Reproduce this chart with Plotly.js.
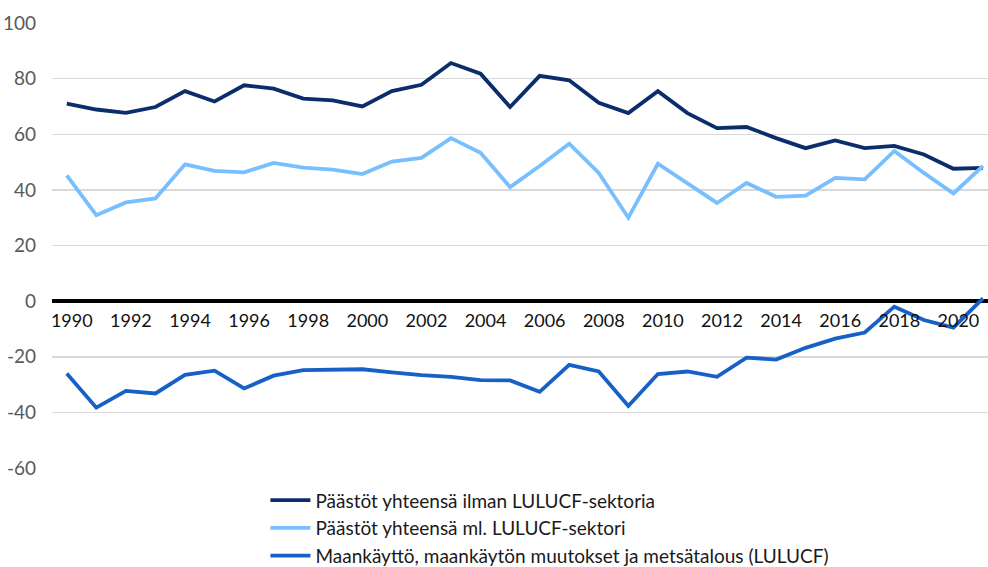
<!DOCTYPE html>
<html>
<head>
<meta charset="utf-8">
<script src="https://cdn.plot.ly/plotly-3.0.1.min.js"></script>
<style>html,body{margin:0;padding:0;background:#fff;}#chart{width:988px;height:567px;}</style>
</head>
<body>
<div id="chart"></div>
<script>
const years = [1990,1991,1992,1993,1994,1995,1996,1997,1998,1999,2000,2001,2002,2003,2004,2005,2006,2007,2008,2009,2010,2011,2012,2013,2014,2015,2016,2017,2018,2019,2020,2021];
const emissionsExclLULUCF = [71.0,68.9,67.7,69.8,75.5,71.8,77.6,76.4,72.8,72.2,70.0,75.5,77.8,85.6,81.8,69.8,81.0,79.4,71.3,67.6,75.5,67.6,62.2,62.6,58.6,55.0,57.8,55.0,55.8,52.7,47.6,47.9];
const emissionsInclLULUCF = [45.2,30.9,35.5,36.9,49.2,46.8,46.3,49.7,48.0,47.3,45.7,50.2,51.5,58.6,53.3,41.0,48.6,56.6,46.1,30.0,49.4,42.5,35.3,42.5,37.5,37.9,44.3,43.8,54.0,46.1,38.7,48.6];
const lulucf = [-26.0,-38.3,-32.3,-33.2,-26.5,-25.0,-31.4,-26.8,-24.8,-24.8,-24.5,-25.6,-26.6,-27.2,-28.4,-28.5,-32.6,-22.9,-25.3,-37.7,-26.2,-25.3,-27.2,-20.3,-21.0,-16.8,-13.5,-11.3,-2.0,-6.8,-9.5,1.0];
const seriesNames = ["Päästöt yhteensä ilman LULUCF-sektoria","Päästöt yhteensä ml. LULUCF-sektori","Maankäyttö, maankäytön muutokset ja metsätalous (LULUCF)"];
const xTickVals = [1990,1992,1994,1996,1998,2000,2002,2004,2006,2008,2010,2012,2014,2016,2018,2020];
const yTickVals = [-60,-40,-20,0,20,40,60,80,100];
const yTickText = ["-60","-40","-20","0","20","40","60","80","100"];

const FONT = "Lato, 'Liberation Sans', sans-serif";
const colors = ["#0b2d6c","#78bfff","#1660c6"];

const traces = [emissionsExclLULUCF, emissionsInclLULUCF, lulucf].map((v,i)=>({
  x: years, y: v, type: "scatter", mode: "lines", name: seriesNames[i],
  line: {color: colors[i], width: 3.8}
}));

const layout = {
  width: 988, height: 567,
  margin: {l: 52, r: 0, t: 23, b: 99, pad: 0, autoexpand: false},
  paper_bgcolor: "#fff", plot_bgcolor: "#fff",
  showlegend: true,
  legend: {x: 0.228, xanchor: "left", y: -0.03, yanchor: "top", orientation: "v",
    font: {family: FONT, size: 19, color: "#1a1a1a"}, tracegroupgap: 0, itemwidth: 40,
    bgcolor: "rgba(0,0,0,0)"},
  xaxis: {type: "linear", range: [1989.5, 2021.17], tickvals: xTickVals, ticktext: xTickVals.map(String),
    showgrid: false, zeroline: false, showline: false, ticks: "",
    anchor: "free", position: 0.375, ticklabelshift: 5, ticklabelstandoff: 7,
    tickfont: {family: FONT, size: 18, color: "#111"}},
  yaxis: {range: [-60, 100], tickvals: yTickVals, ticktext: yTickText, showgrid: true, gridcolor: "#d9d9d9", gridwidth: 1.5,
    zeroline: true, zerolinecolor: "#000", zerolinewidth: 3.5, showline: false, ticks: "",
    ticklabelstandoff: 15,
    tickfont: {family: FONT, size: 19, color: "#595959"}}
};

Plotly.newPlot("chart", traces, layout, {displayModeBar: false, staticPlot: true});
</script>
</body>
</html>
